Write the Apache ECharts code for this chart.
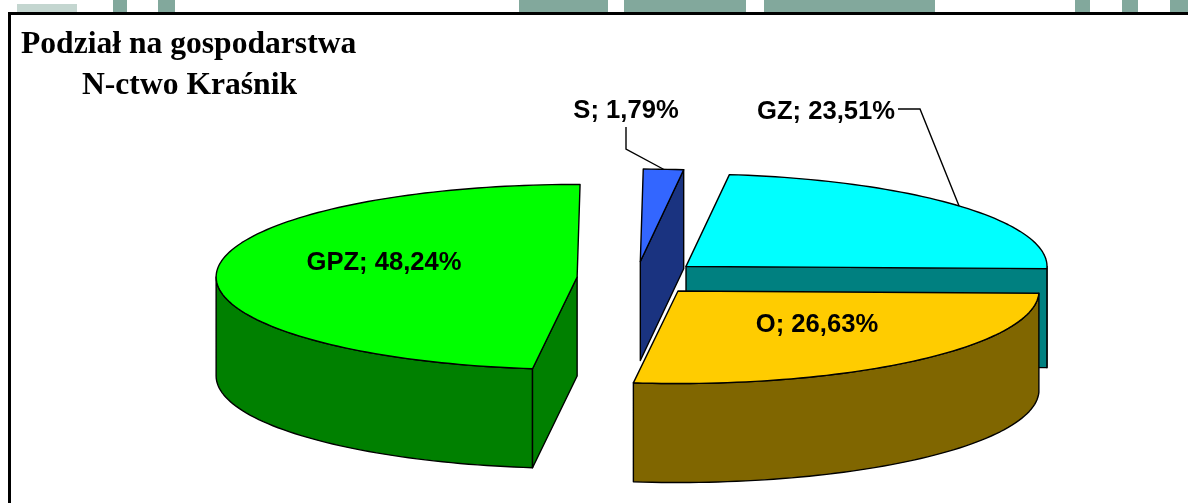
<!DOCTYPE html>
<html><head><meta charset="utf-8">
<style>html,body{margin:0;padding:0;background:#fff}#c{width:1188px;height:503px}</style>
<script src="https://cdn.jsdelivr.net/npm/echarts@6/dist/echarts.min.js"></script>
</head><body><div id="c"></div>
<script>
var categories = ['GZ', 'O', 'GPZ', 'S'];
var shares = [23.51, 26.63, 48.24, 1.79];
var topColors = ['#00FFFF', '#FFCC00', '#00FF00', '#3366FF'];
var wallColors = ['#008080', '#806600', '#008000', '#1A3380'];
var explodes = [65.6, 63.7, 59.4, 61];
var labelCenters = [[826, 112], [817, 325], [384, 263], [626, 111]];
var leaderElbows = [[[898, 109], [920, 109]], null, null, [[626, 127], [626, 149]]];
var PIE = {cx: 636.4, cy: 278, rx: 361, ry: 92.5, depth: 99, squash: 0.27, firstAngle: 6.9};
var bgPatches = [[17,4,60,8,'#c4d6d0'],[113,0,14,13,'#82A89C'],[158,0,17,13,'#82A89C'],[519,0,89,13,'#82A89C'],[624,0,122,13,'#82A89C'],[764,0,171,13,'#82A89C'],[1075,0,15,13,'#82A89C'],[1122,0,16,13,'#82A89C'],[1170,0,18,13,'#82A89C']];

var total = shares.reduce(function (a, b) { return a + b; }, 0);
var acc = PIE.firstAngle;
var sliceData = shares.map(function (v, i) {
  var s = acc; acc += v / total * 360;
  return [s, acc, v, i];
});
function rad(d) { return d * Math.PI / 180; }
function arcPts(ax, ay, a, b, dy) {
  var n = Math.max(2, Math.ceil(Math.abs(b - a) / 1.5)), out = [];
  for (var k = 0; k <= n; k++) {
    var t = rad(a + (b - a) * k / n);
    out.push([ax + PIE.rx * Math.sin(t), ay - PIE.ry * Math.cos(t) + (dy || 0)]);
  }
  return out;
}
function lineStyleOf(fill) { return {fill: fill, stroke: '#000', lineWidth: 1.4, lineJoin: 'round'}; }
function fmt(v) { return v.toFixed(2).replace('.', ','); }

function renderItem(params, api) {
  var a = api.value(0), b = api.value(1), v = api.value(2), i = api.value(3);
  var mid = (a + b) / 2, e = explodes[i];
  var ax = PIE.cx + e * Math.sin(rad(mid));
  var ay = PIE.cy - e * PIE.squash * Math.cos(rad(mid));
  var d = PIE.depth, kids = [];
  // outer wall: the part of the rim facing the viewer
  var wa = Math.max(a, 90), wb = Math.min(b, 270);
  if (wb > wa) {
    var upper = arcPts(ax, ay, wa, wb, 0), lower = arcPts(ax, ay, wa, wb, d).reverse();
    kids.push({type: 'polygon', shape: {points: upper.concat(lower)}, style: lineStyleOf(wallColors[i])});
  }
  // radial cut faces that face the viewer
  [[a, a - 90], [b, b + 90]].forEach(function (cut) {
    if (-Math.cos(rad(cut[1])) > 0.02) {
      var p = arcPts(ax, ay, cut[0], cut[0], 0)[0];
      kids.push({type: 'polygon', shape: {points: [[ax, ay], p, [p[0], p[1] + d], [ax, ay + d]]}, style: lineStyleOf(wallColors[i])});
    }
  });
  // top face
  kids.push({type: 'polygon', shape: {points: [[ax, ay]].concat(arcPts(ax, ay, a, b, 0))}, style: lineStyleOf(topColors[i])});
  // leader line
  if (leaderElbows[i]) {
    var end = arcPts(ax, ay, mid, mid, 0)[0];
    kids.push({type: 'polyline', shape: {points: leaderElbows[i].concat([end])}, style: {fill: null, stroke: '#000', lineWidth: 1.4}});
  }
  // label
  kids.push({type: 'text', x: labelCenters[i][0], y: labelCenters[i][1], style: {
    text: categories[i] + '; ' + fmt(v) + '%', fill: '#000', align: 'center', verticalAlign: 'middle',
    font: 'bold 25.6px "Liberation Sans", Arial, sans-serif'}});
  return {type: 'group', children: kids};
}

var chart = echarts.init(document.getElementById('c'), null, {renderer: 'canvas'});
var gfx = bgPatches.map(function (p) {
  return {type: 'rect', shape: {x: p[0], y: p[1], width: p[2], height: p[3]}, style: {fill: p[4]}, silent: true, z: 0};
});
gfx.push({type: 'rect', shape: {x: 8, y: 12, width: 1180, height: 3}, style: {fill: '#000'}, silent: true, z: 1});
gfx.push({type: 'rect', shape: {x: 8, y: 12, width: 3, height: 491}, style: {fill: '#000'}, silent: true, z: 1});
chart.setOption({
  animation: false,
  backgroundColor: '#fff',
  title: [
    {text: 'Podział na gospodarstwa', left: 21, top: 29, padding: 0, textStyle: {fontFamily: '"Liberation Serif", serif', fontWeight: 'bold', fontSize: 31.6, color: '#000'}},
    {text: 'N-ctwo Kraśnik', left: 82, top: 70, padding: 0, textStyle: {fontFamily: '"Liberation Serif", serif', fontWeight: 'bold', fontSize: 31.6, color: '#000'}}
  ],
  graphic: gfx,
  series: [{type: 'custom', coordinateSystem: 'none', renderItem: renderItem, data: sliceData, silent: true, z: 5}]
});
</script></body></html>
